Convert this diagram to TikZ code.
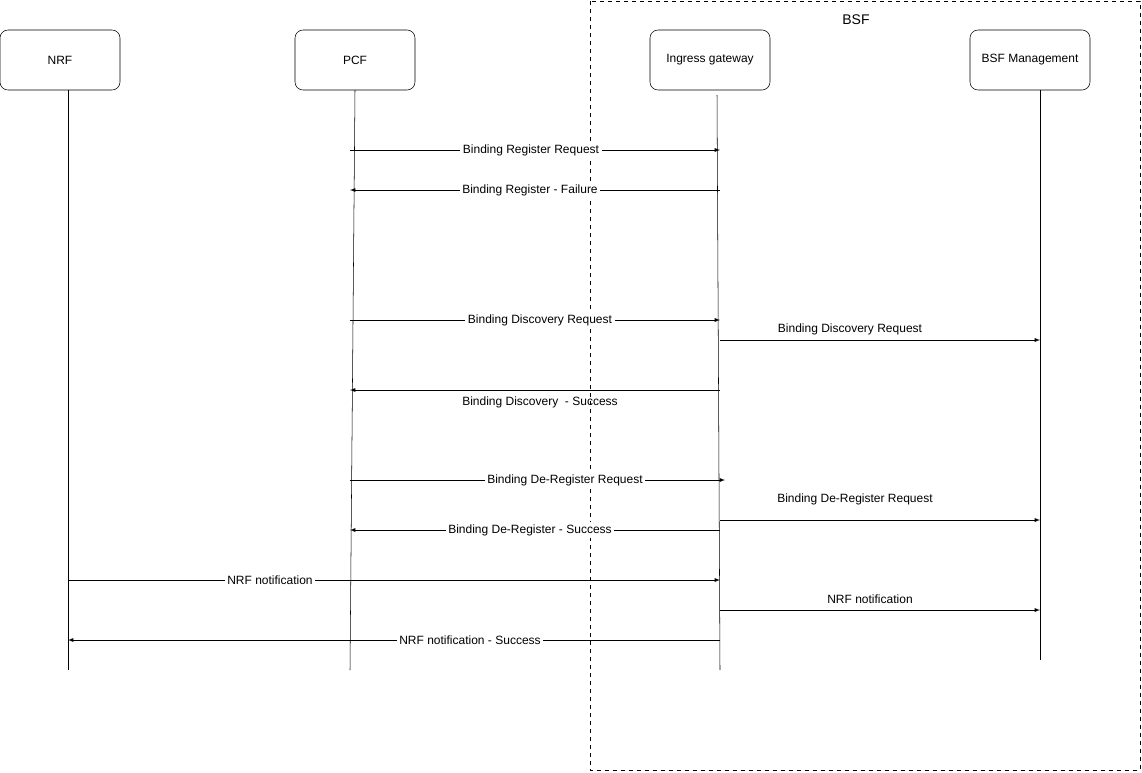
\documentclass[tikz,border=0pt]{standalone}
\usepackage{fontspec}
\setmainfont{Liberation Sans}
\begin{document}
\begin{tikzpicture}[x=0.75pt,y=-0.75pt,
  actor/.style={draw,rounded corners=6pt,minimum width=90pt,minimum height=45pt,font=\fontsize{9}{10}\selectfont,inner sep=0},
  msg/.style={-latex,thin},
  lbl/.style={fill=white,font=\fontsize{9}{10}\selectfont,inner sep=2pt},
  plain/.style={font=\fontsize{9}{10}\selectfont,inner sep=1pt}]
\useasboundingbox (0,0) rectangle (1142,772);
\draw[dashed] (590,1) rectangle (1140,770);
\node[font=\fontsize{10.5}{12}\selectfont] (bsf) at (856,20) {BSF};
\node[actor] (nrf) at (60,60) {NRF};
\node[actor] (pcf) at (355,60) {PCF};
\node[actor] (ig) at (710,60) {Ingress gateway};
\node[actor] (bm) at (1030,60) {BSF Management};
\coordinate (nrfE) at (68,670);
\coordinate (pcfT) at (355,90); \coordinate (pcfE) at (350,670);
\coordinate (igT) at (717,95); \coordinate (igE) at (720,670);
\coordinate (bmT) at (1040,90); \coordinate (bmE) at (1040,660);
\draw (68,90) -- (nrfE);
\draw (pcfT) -- (pcfE);
\draw (igT) -- (igE);
\draw (bmT) -- (bmE);
% messages
\foreach \n/\y in {a/150,b/190,c/320,e/390,g/480,i/530,k/580,m/640}{
  \coordinate (p\n) at (350,\y); \coordinate (i\n) at (720,\y);}
\coordinate (ig4) at (725,480);
\coordinate (nk) at (68,580); \coordinate (nm) at (68,640);
\foreach \n/\y in {d/340,h/520,l/610}{
  \coordinate (i\n) at (720,\y); \coordinate (b\n) at (1040,\y);}
\draw[msg] (pa) -- (ia); \node[lbl] (la) at (531,150) {Binding Register Request};
\draw[msg] (ib) -- (pb); \node[lbl] (lb) at (530,190) {Binding Register - Failure};
\draw[msg] (pc) -- (ic); \node[lbl] (lc) at (540,320) {Binding Discovery Request};
\draw[msg] (id) -- (bd); \node[plain] (ld) at (850,329) {Binding Discovery Request};
\draw[msg] (ie) -- (pe); \node[plain] (le) at (540,402) {Binding Discovery\ \ - Success};
\draw[msg] (pg) -- (ig4); \node[lbl] (lg) at (565,480) {Binding De-Register Request};
\draw[msg] (ih) -- (bh); \node[plain] (lh) at (855,499) {Binding De-Register Request};
\draw[msg] (ii) -- (pi); \node[lbl] (li) at (530,530) {Binding De-Register - Success};
\draw[msg] (nk) -- (ik); \node[lbl] (lk) at (270,580) {NRF notification};
\draw[msg] (il) -- (bl); \node[plain] (ll) at (870,599) {NRF notification};
\draw[msg] (im) -- (nm); \node[lbl] (lm) at (470,640) {NRF notification - Success};
\end{tikzpicture}
\end{document}
